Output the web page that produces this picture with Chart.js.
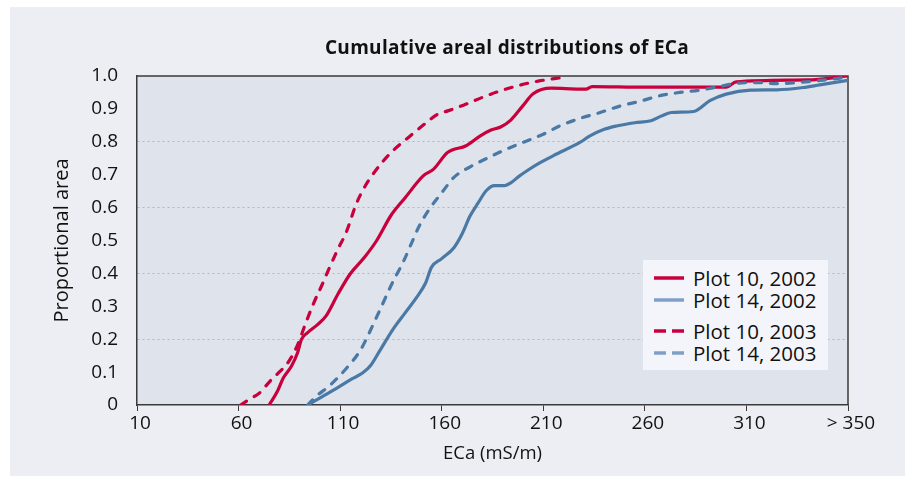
<!DOCTYPE html>
<html><head><meta charset="utf-8">
<script src="https://cdn.jsdelivr.net/npm/chart.js@4.4.1/dist/chart.umd.min.js"></script>
<style>
html,body{margin:0;padding:0;background:#fff;}
#wrap{position:relative;width:909px;height:481px;overflow:hidden;font-family:"Open Sans",sans-serif;}
#panel{position:absolute;left:10px;top:7px;width:895px;height:469px;background:#eceef3;}
#cv{position:absolute;left:0;top:0;}
#title{position:absolute;top:35px;left:507px;transform:translateX(-50%);white-space:nowrap;font-weight:bold;font-size:19px;line-height:24px;color:#111;letter-spacing:0.3px;}
#legend{position:absolute;left:643px;top:260px;width:185px;height:110px;background:#f4f5fa;}
.row{position:absolute;left:0;height:22px;display:flex;align-items:center;}
.row svg{margin-left:11px;margin-right:9px;}
.row span{font-size:20.5px;color:#111;line-height:22px;}
</style></head>
<body>
<div id="wrap">
<div id="panel"></div>
<canvas id="cv" width="909" height="481"></canvas>
<div id="title">Cumulative areal distributions of ECa</div>
<div id="legend">
 <div class="row" style="top:7px"><svg width="30" height="6"><line x1="0" y1="3" x2="30" y2="3" stroke="#c8003c" stroke-width="3.5"/></svg><span>Plot 10, 2002</span></div>
 <div class="row" style="top:29px"><svg width="30" height="6"><line x1="0" y1="3" x2="30" y2="3" stroke="#809fc8" stroke-width="3.5"/></svg><span>Plot 14, 2002</span></div>
 <div class="row" style="top:60px"><svg width="30" height="6"><line x1="0" y1="3" x2="30" y2="3" stroke="#c8003c" stroke-width="3.5" stroke-dasharray="12 6"/></svg><span>Plot 10, 2003</span></div>
 <div class="row" style="top:82px"><svg width="30" height="6"><line x1="0" y1="3" x2="30" y2="3" stroke="#809fc8" stroke-width="3.5" stroke-dasharray="12 6"/></svg><span>Plot 14, 2003</span></div>
</div>
</div>
<script>
// ---- data (ECa in mS/m, proportional area) ----
const xTickValues = [10, 60, 110, 160, 210, 260, 310, 360];
const xTickLabels = ['10', '60', '110', '160', '210', '260', '310', '> 350'];
const yTickValues = [0, 0.1, 0.2, 0.3, 0.4, 0.5, 0.6, 0.7, 0.8, 0.9, 1.0];
const yTickLabels = ['0', '0.1', '0.2', '0.3', '0.4', '0.5', '0.6', '0.7', '0.8', '0.9', '1.0'];
const seriesNames = ['Plot 10, 2002', 'Plot 14, 2002', 'Plot 10, 2003', 'Plot 14, 2003'];

const p10_2002_x = [75, 79, 82, 86, 89, 91, 94, 99, 103, 109, 115, 122, 128, 135, 142, 151, 156, 163, 172, 179, 184, 189, 194, 200, 205, 214, 228, 231, 234, 260, 300, 305, 340, 360];
const p10_2002_y = [0, 0.04, 0.082, 0.118, 0.158, 0.2, 0.22, 0.245, 0.27, 0.338, 0.399, 0.449, 0.5, 0.576, 0.63, 0.697, 0.717, 0.768, 0.788, 0.818, 0.835, 0.845, 0.866, 0.91, 0.946, 0.963, 0.96, 0.96, 0.968, 0.966, 0.966, 0.982, 0.988, 1.0];

const p14_2002_x = [94, 101, 108, 116, 121, 125, 130, 136, 142, 148, 152, 155, 160, 166, 170, 174, 178, 182, 186, 191, 194, 198, 202, 208, 215, 228, 233, 240, 246, 255, 263, 268, 273, 284, 292, 300, 312, 325, 338, 346, 360];
const p14_2002_y = [0, 0.025, 0.05, 0.08, 0.097, 0.12, 0.17, 0.23, 0.28, 0.33, 0.37, 0.419, 0.445, 0.478, 0.52, 0.575, 0.615, 0.652, 0.667, 0.667, 0.675, 0.695, 0.712, 0.735, 0.758, 0.798, 0.818, 0.838, 0.848, 0.858, 0.864, 0.878, 0.889, 0.892, 0.925, 0.945, 0.957, 0.958, 0.965, 0.973, 0.987];

const p10_2003_x = [61, 66, 70, 76, 80, 84, 89, 93, 97, 101, 105, 109, 113, 118, 122, 126, 131, 136, 143, 152, 158, 163, 171, 180, 189, 199, 208, 219];
const p10_2003_y = [0, 0.02, 0.035, 0.076, 0.1, 0.126, 0.182, 0.248, 0.31, 0.364, 0.421, 0.475, 0.525, 0.612, 0.662, 0.7, 0.74, 0.773, 0.81, 0.856, 0.884, 0.894, 0.912, 0.935, 0.955, 0.973, 0.985, 0.995];

const p14_2003_x = [94, 98, 105, 113, 120, 128, 136, 141, 145, 149, 154, 160, 166, 174, 183, 192, 200, 210, 218, 227, 238, 248, 258, 268, 276, 287, 296, 304, 315, 325, 335, 344, 354, 360];
const p14_2003_y = [0, 0.025, 0.06, 0.111, 0.167, 0.268, 0.375, 0.434, 0.49, 0.545, 0.596, 0.645, 0.692, 0.724, 0.752, 0.778, 0.798, 0.823, 0.848, 0.869, 0.889, 0.909, 0.924, 0.941, 0.949, 0.957, 0.967, 0.977, 0.98, 0.977, 0.98, 0.985, 0.992, 0.998];

const RED = '#c8003c';
const BLUE = '#4a79a5';

function pts(xs, ys) { return xs.map((x, i) => ({ x: x, y: ys[i] })); }

const bgPlugin = {
  id: 'plotBg',
  beforeDraw(chart) {
    const { ctx, chartArea: a } = chart;
    ctx.save();
    ctx.fillStyle = '#dfe3ec';
    ctx.fillRect(a.left, a.top, a.right - a.left, a.bottom - a.top);
    ctx.restore();
  },
  beforeDatasetsDraw(chart) {
    const { ctx, chartArea: a } = chart;
    ctx.save();
    ctx.strokeStyle = '#3a3a3a';
    ctx.lineWidth = 1.5;
    ctx.beginPath();
    ctx.moveTo(a.left, a.top);
    ctx.lineTo(a.right, a.top);
    ctx.lineTo(a.right, a.bottom);
    ctx.stroke();
    ctx.restore();
  }
};

const baseDs = { showLine: true, pointRadius: 0, borderWidth: 3.2, cubicInterpolationMode: 'monotone', fill: false };
const tickFont = { family: 'Open Sans', size: 19 };

new Chart(document.getElementById('cv'), {
  type: 'scatter',
  data: {
    datasets: [
      Object.assign({ label: seriesNames[2], data: pts(p10_2003_x, p10_2003_y), borderColor: RED, borderDash: [7, 9], borderCapStyle: 'round' }, baseDs),
      Object.assign({ label: seriesNames[3], data: pts(p14_2003_x, p14_2003_y), borderColor: BLUE, borderDash: [7, 9], borderCapStyle: 'round' }, baseDs),
      Object.assign({ label: seriesNames[0], data: pts(p10_2002_x, p10_2002_y), borderColor: RED }, baseDs),
      Object.assign({ label: seriesNames[1], data: pts(p14_2002_x, p14_2002_y), borderColor: BLUE }, baseDs)
    ]
  },
  options: {
    responsive: false,
    animation: false,
    events: [],
    layout: { padding: { top: 76, right: 61, bottom: 0, left: 0 } },
    plugins: { legend: { display: false }, title: { display: false }, tooltip: { enabled: false } },
    scales: {
      x: {
        type: 'linear', min: 10, max: 360,
        afterBuildTicks(scale) { scale.ticks = xTickValues.map(v => ({ value: v })); },
        afterFit(scale) { scale.height = 76; },
        ticks: {
          callback: (v, i) => xTickLabels[i],
          font: tickFont, color: '#111', padding: 1, maxRotation: 0, autoSkip: false, labelOffset: 3
        },
        grid: { drawOnChartArea: false, drawTicks: true, tickLength: 6, color: '#3a3a3a', lineWidth: 1 },
        border: { display: true, color: '#3a3a3a', width: 1.5 },
        title: { display: true, text: 'ECa (mS/m)', font: { family: 'Open Sans', size: 18.5 }, color: '#111', padding: { top: 0, bottom: 16 } }
      },
      y: {
        type: 'linear', min: 0, max: 1,
        afterBuildTicks(scale) { scale.ticks = yTickValues.map(v => ({ value: v })); },
        afterFit(scale) { scale.width = 137; },
        ticks: {
          callback: (v, i) => yTickLabels[i],
          font: tickFont, color: '#111', padding: 19, autoSkip: false
        },
        grid: {
          drawTicks: false,
          color: ctx => ([0.2, 0.4, 0.6, 0.8].some(g => Math.abs(ctx.tick.value - g) < 1e-6) ? '#b3b7c0' : 'rgba(0,0,0,0)'),
          lineWidth: 1
        },
        border: { display: true, color: '#3a3a3a', width: 1.5, dash: [2, 3] },
        title: { display: true, text: 'Proportional area', font: { family: 'Open Sans', size: 20 }, color: '#111', padding: { top: 50, bottom: 0 } }
      }
    }
  },
  plugins: [bgPlugin]
});
</script>
</body></html>
